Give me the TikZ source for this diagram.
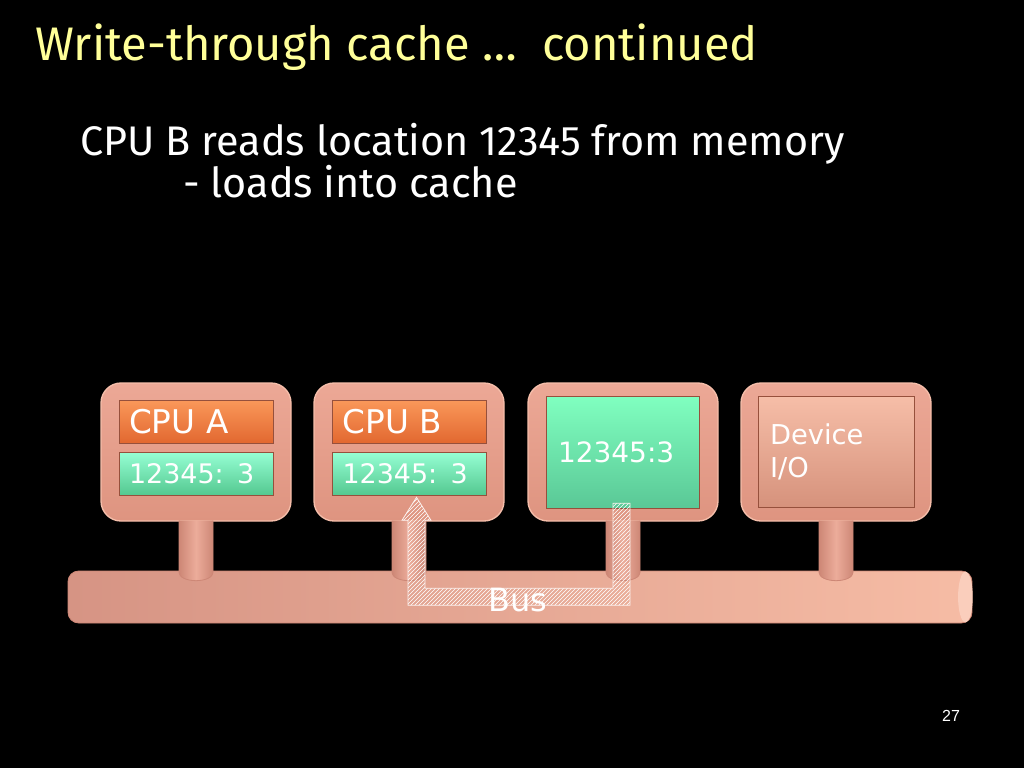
\documentclass[tikz,border=0pt]{standalone}
\usepackage{fontspec}
\setmainfont{DejaVu Sans}
\newfontfamily\comic{Fira Sans}
\newfontfamily\arial{Liberation Sans}
\usetikzlibrary{calc,patterns}
\definecolor{titleyellow}{RGB}{255,255,153}
\definecolor{boxtop}{RGB}{236,168,150}
\definecolor{boxbot}{RGB}{222,148,128}
\definecolor{boxedge}{RGB}{245,190,170}
\definecolor{orangetop}{RGB}{250,152,90}
\definecolor{orangebot}{RGB}{226,104,48}
\definecolor{greentop}{RGB}{150,255,212}
\definecolor{greenbot}{RGB}{84,200,144}
\definecolor{memtop}{RGB}{128,255,192}
\definecolor{membot}{RGB}{90,200,150}
\definecolor{devtop}{RGB}{246,190,168}
\definecolor{devbot}{RGB}{214,146,124}
\definecolor{busleft}{RGB}{214,148,132}
\definecolor{busright}{RGB}{246,188,165}
\definecolor{busend}{RGB}{250,206,188}
\definecolor{stemedge}{RGB}{205,135,118}
\definecolor{stemmid}{RGB}{236,172,154}
\definecolor{darkedge}{RGB}{150,80,60}
\begin{document}
\begin{tikzpicture}[x=0.75pt,y=-0.75pt,
  outer/.style={rounded corners=15pt, minimum width=142.5pt, minimum height=103.5pt,
    top color=boxtop, bottom color=boxbot, draw=boxedge, line width=1pt, inner sep=0pt},
  inner/.style={minimum width=115.5pt, minimum height=32.25pt, text width=100.5pt,
    align=left, inner xsep=7.5pt, inner ysep=0pt, text=white, draw=darkedge, line width=0.5pt},
  cpubox/.style={inner, top color=orangetop, bottom color=orangebot, font=\fontsize{24.5}{28}\selectfont},
  cachebox/.style={inner, top color=greentop, bottom color=greenbot, font=\fontsize{20.2}{26}\selectfont},
  stem/.style={left color=stemedge, right color=stemedge, middle color=stemmid, draw=stemedge, line width=0.6pt},
  hatch/.style={pattern=north east lines, pattern color=white, draw=white!85!boxtop, line width=0.6pt},
  slidetext/.style={anchor=base west, inner sep=0pt}
]
\fill[black] (0,0) rectangle (1024,768);
\useasboundingbox (0,0) rectangle (1024,768);

% title and text
\node[slidetext, font=\comic\fontsize{35.3}{40}\selectfont, text=titleyellow] (title) at (35,60) {Write-through cache …\ \ continued};
\node[slidetext, font=\comic\fontsize{31}{36}\selectfont, text=white] (sub1) at (80,155) {CPU B reads location 12345 from memory};
\node[slidetext, font=\comic\fontsize{31}{36}\selectfont, text=white] (sub2) at (183,197) {- loads into cache};

% bus
\node[rounded corners=8pt, minimum width=678pt, minimum height=39pt, inner sep=0pt,
  left color=busleft, right color=busright, draw=stemedge, line width=0.6pt] (bus) at (520,597) {};
\fill[busend] ($(bus.east)+(-7,0)$) ellipse [x radius=5.5pt, y radius=19pt];

% boxes
\node[outer] (b1) at (196,452) {};
\node[outer] (b2) at (409,452) {};
\node[outer] (b3) at (623,452) {};
\node[outer] (b4) at (836,452) {};

% stems
\foreach \b in {b1,b2,b3,b4}{
  \draw[stem] ($(\b.south)+(-17,-1)$) -- ($(\b.south)+(-17,51)$)
    arc[start angle=180, end angle=360, x radius=12.75pt, y radius=6pt]
    -- ($(\b.south)+(17,-1)$);
}

% inner parts
\node[cpubox] (cpuA) at (196,421.5) {CPU A};
\node[cachebox] (cacheA) at (196,473.5) {12345: 3};
\node[cpubox] (cpuB) at (409.5,421.5) {CPU B};
\node[cachebox] (cacheB) at (409.5,473.5) {12345: 3};
\node[minimum width=114.75pt, minimum height=84pt, text width=96.75pt, align=left,
  inner xsep=9pt, inner ysep=0pt, text=white, draw=darkedge, line width=0.5pt,
  top color=memtop, bottom color=membot, font=\fontsize{21}{25}\selectfont] (mem) at (622.5,452) {12345:3};
\node[minimum width=117pt, minimum height=83.25pt, text width=99pt, align=left,
  inner xsep=9pt, inner ysep=0pt, text=white, draw=darkedge, line width=0.5pt,
  top color=devtop, bottom color=devbot, font=\fontsize{20.5}{24.75}\selectfont] (dev) at (836,451.5) {Device\\I/O};

% hatched transfer arrow: memory -> bus -> cache of CPU B
\coordinate (src) at ($(mem.south)+(-1,-5)$);
\coordinate (tip) at ($(cacheB.south)+(7,2)$);
\draw[hatch] ($(src)+(-8.5,0)$) -- ($(src)+(8.5,0)$) -- ($(src)+(8.5,102)$)
  -- ($(tip)+(-8.5,108)$) -- ($(tip)+(-8.5,23)$) -- ($(tip)+(-14.5,23)$) -- (tip)
  -- ($(tip)+(14.5,23)$) -- ($(tip)+(8.5,23)$) -- ($(tip)+(8.5,91)$)
  -- ($(src)+(-8.5,85)$) -- cycle;

\node[text=white, font=\fontsize{24}{28}\selectfont, inner sep=0pt] (buslabel) at ($(bus.center)+(-2,3)$) {Bus};

\node[text=white, font=\arial\fontsize{12}{14}\selectfont, inner sep=0pt] (pg) at (951,716) {27};
\end{tikzpicture}
\end{document}
